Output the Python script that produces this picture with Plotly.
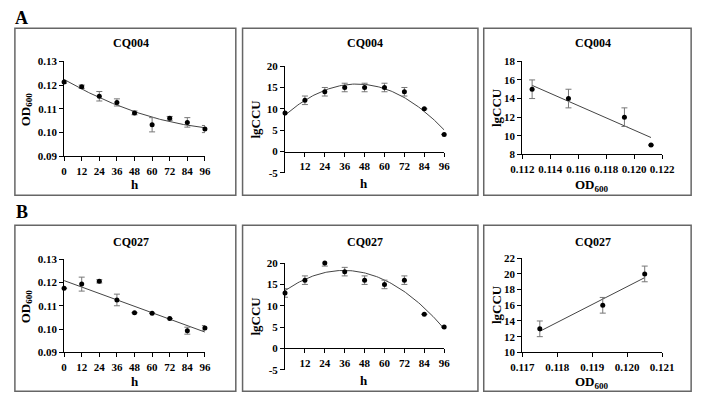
import numpy as np
import plotly.graph_objects as go

# ---------------- data ----------------
hours = [0, 12, 24, 36, 48, 60, 72, 84, 96]
h_ticks = [0, 12, 24, 36, 48, 60, 72, 84, 96]
h_ticks_ccu = [12, 24, 36, 48, 60, 72, 84, 96]
od_ticks = [0.09, 0.10, 0.11, 0.12, 0.13]
od_tick_labels = ["0.09", "0.10", "0.11", "0.12", "0.13"]
ccu_ticks = [-5, 0, 5, 10, 15, 20]
corr_a_xticks = [0.112, 0.114, 0.116, 0.118, 0.120, 0.122]
corr_a_xlabels = ["0.112", "0.114", "0.116", "0.118", "0.120", "0.122"]
corr_a_yticks = [8, 10, 12, 14, 16, 18]
corr_b_xticks = [0.117, 0.118, 0.119, 0.120, 0.121]
corr_b_xlabels = ["0.117", "0.118", "0.119", "0.120", "0.121"]
corr_b_yticks = [10, 12, 14, 16, 18, 20, 22]

cq004_od = [0.1213, 0.1193, 0.1153, 0.1127, 0.1083, 0.1033, 0.1060, 0.1043, 0.1015]
cq004_od_err = [0.0005, 0.0007, 0.0020, 0.0015, 0.0008, 0.0030, 0.0008, 0.0020, 0.0015]
cq004_ccu = [9, 12, 14, 15, 15, 15, 14, 10, 4]
cq004_ccu_err = [0, 1, 1, 1, 1, 1, 1, 0, 0]
cq004_corr_od = [0.1127, 0.1153, 0.1193, 0.1212]
cq004_corr_ccu = [15, 14, 12, 9]
cq004_corr_err = [1, 1, 1, 0]

cq027_od = [0.1175, 0.1193, 0.1205, 0.1125, 0.1070, 0.1068, 0.1045, 0.0993, 0.1005]
cq027_od_err = [0, 0.0030, 0.0007, 0.0025, 0, 0, 0, 0.0015, 0.0010]
cq027_ccu = [13, 16, 20, 18, 16, 15, 16, 8, 5]
cq027_ccu_err = [1, 1, 0.7, 1, 1, 1, 1, 0, 0]
cq027_corr_od = [0.1175, 0.1193, 0.1205]
cq027_corr_ccu = [13, 16, 20]
cq027_corr_err = [1, 1, 1]

W, H = 708, 402
FONT = "Liberation Serif"

def px(x):
    return x / W

def py(y):
    return 1 - y / H

def bold(labels):
    return ["<b>" + str(s) + "</b>" for s in labels]

fig = go.Figure()

def add_panel(idx, xs, ys, errs, deg, xdom, ydom, xrange, yrange, xtickvals, xticklabels,
              ytickvals, yticklabels, xcross=None, fit_range=None):
    xa = "x" if idx == 1 else f"x{idx}"
    ya = "y" if idx == 1 else f"y{idx}"
    coeff = np.polyfit(xs, ys, deg)
    lo, hi = fit_range if fit_range else (min(xs), max(xs))
    fx = np.linspace(lo, hi, 100)
    fy = np.polyval(coeff, fx)
    fig.add_trace(go.Scatter(x=fx, y=fy, mode="lines", line=dict(color="#444444", width=1),
                             xaxis=xa, yaxis=ya, showlegend=False, hoverinfo="skip"))
    fig.add_trace(go.Scatter(x=xs, y=ys, mode="markers",
                             marker=dict(color="black", size=5),
                             error_y=dict(type="data", array=errs, color="#777777", thickness=1, width=3),
                             xaxis=xa, yaxis=ya, showlegend=False, cliponaxis=False))
    tickfont = dict(family=FONT, size=11, color="black")
    xkey = "xaxis" if idx == 1 else f"xaxis{idx}"
    ykey = "yaxis" if idx == 1 else f"yaxis{idx}"
    xd = [px(xdom[0]), px(xdom[1])]
    yd = [py(ydom[1]), py(ydom[0])]
    xaxis = dict(domain=xd, range=xrange, tickvals=xtickvals, ticktext=bold(xticklabels),
                 tickangle=0, showline=True, linecolor="black",
                 linewidth=1, ticks="outside", ticklen=4, tickcolor="black", tickwidth=1,
                 showgrid=False, zeroline=False, tickfont=tickfont, fixedrange=True)
    if xcross is not None:
        frac = (xcross - yrange[0]) / (yrange[1] - yrange[0])
        xaxis.update(anchor="free", position=yd[0] + frac * (yd[1] - yd[0]))
    else:
        xaxis.update(anchor=ya)
    yaxis = dict(domain=yd, range=yrange, tickvals=ytickvals, ticktext=bold(yticklabels),
                 anchor=xa, showline=True,
                 linecolor="black", linewidth=1, ticks="outside", ticklen=4, tickcolor="black",
                 tickwidth=1, showgrid=False, zeroline=False, tickfont=tickfont, fixedrange=True)
    fig.update_layout({xkey: xaxis, ykey: yaxis})

# Row A
add_panel(1, hours, cq004_od, cq004_od_err, 2, (54, 200), (57, 155), [0, 96], [0.09, 0.13],
          h_ticks, h_ticks, od_ticks, od_tick_labels, fit_range=(0, 96))
add_panel(2, hours, cq004_ccu, cq004_ccu_err, 2, (283, 448), (62, 172), [0, 96], [-5, 20],
          h_ticks_ccu, h_ticks_ccu, ccu_ticks, ccu_ticks, xcross=0, fit_range=(0, 96))
add_panel(3, cq004_corr_od, cq004_corr_ccu, cq004_corr_err, 1, (529, 674), (57, 153),
          [0.112, 0.122], [8, 18], corr_a_xticks, corr_a_xlabels, corr_a_yticks, corr_a_yticks)
# Row B
add_panel(4, hours, cq027_od, cq027_od_err, 1, (54, 200), (261, 357), [0, 96], [0.09, 0.13],
          h_ticks, h_ticks, od_ticks, od_tick_labels, fit_range=(0, 96))
add_panel(5, hours, cq027_ccu, cq027_ccu_err, 2, (283, 448), (265, 375), [0, 96], [-5, 20],
          h_ticks_ccu, h_ticks_ccu, ccu_ticks, ccu_ticks, xcross=0, fit_range=(0, 96))
add_panel(6, cq027_corr_od, cq027_corr_ccu, cq027_corr_err, 1, (529, 674), (260, 357),
          [0.117, 0.121], [10, 22], corr_b_xticks, corr_b_xlabels, corr_b_yticks, corr_b_yticks)

# boxes
boxes = [(3, 23, 232, 195), (239, 23, 483, 195), (489, 23, 704, 195),
         (3, 226, 232, 397), (239, 226, 483, 397), (489, 226, 704, 397)]
for x0, y0, x1, y1 in boxes:
    fig.add_shape(type="rect", xref="paper", yref="paper", x0=px(x0), x1=px(x1),
                  y0=py(y1), y1=py(y0), line=dict(color="#666666", width=1.5))

ann = []
def text(x, y, s, size=11, angle=0):
    ann.append(dict(x=px(x), y=py(y), xref="paper", yref="paper", text="<b>" + s + "</b>",
                    showarrow=False, textangle=angle, xanchor="center", yanchor="middle",
                    font=dict(family=FONT, size=size, color="black")))

text(10, 12, "A", 18)
text(10, 212, "B", 18)
# titles
for (x, y, s) in [(123, 38, "CQ004"), (366, 38, "CQ004"), (602, 38, "CQ004"),
                  (123, 243, "CQ027"), (366, 243, "CQ027"), (602, 243, "CQ027")]:
    text(x, y, s, 12)
# y titles
text(15, 106, "OD<sub>600</sub>", 13, -90)
text(252, 117, "lgCCU", 13, -90)
text(503, 105, "lgCCU", 13, -90)
text(15, 309, "OD<sub>600</sub>", 13, -90)
text(252, 320, "lgCCU", 13, -90)
text(503, 308, "lgCCU", 13, -90)
# x titles
text(127, 184, "h", 13)
text(365, 183, "h", 13)
text(601, 185, "OD<sub>600</sub>", 13)
text(127, 387, "h", 13)
text(365, 386, "h", 13)
text(601, 388, "OD<sub>600</sub>", 13)

fig.update_layout(width=W, height=H, margin=dict(l=0, r=0, t=0, b=0),
                  paper_bgcolor="white", plot_bgcolor="white", annotations=ann,
                  font=dict(family=FONT))

fig.write_html("out.html")
